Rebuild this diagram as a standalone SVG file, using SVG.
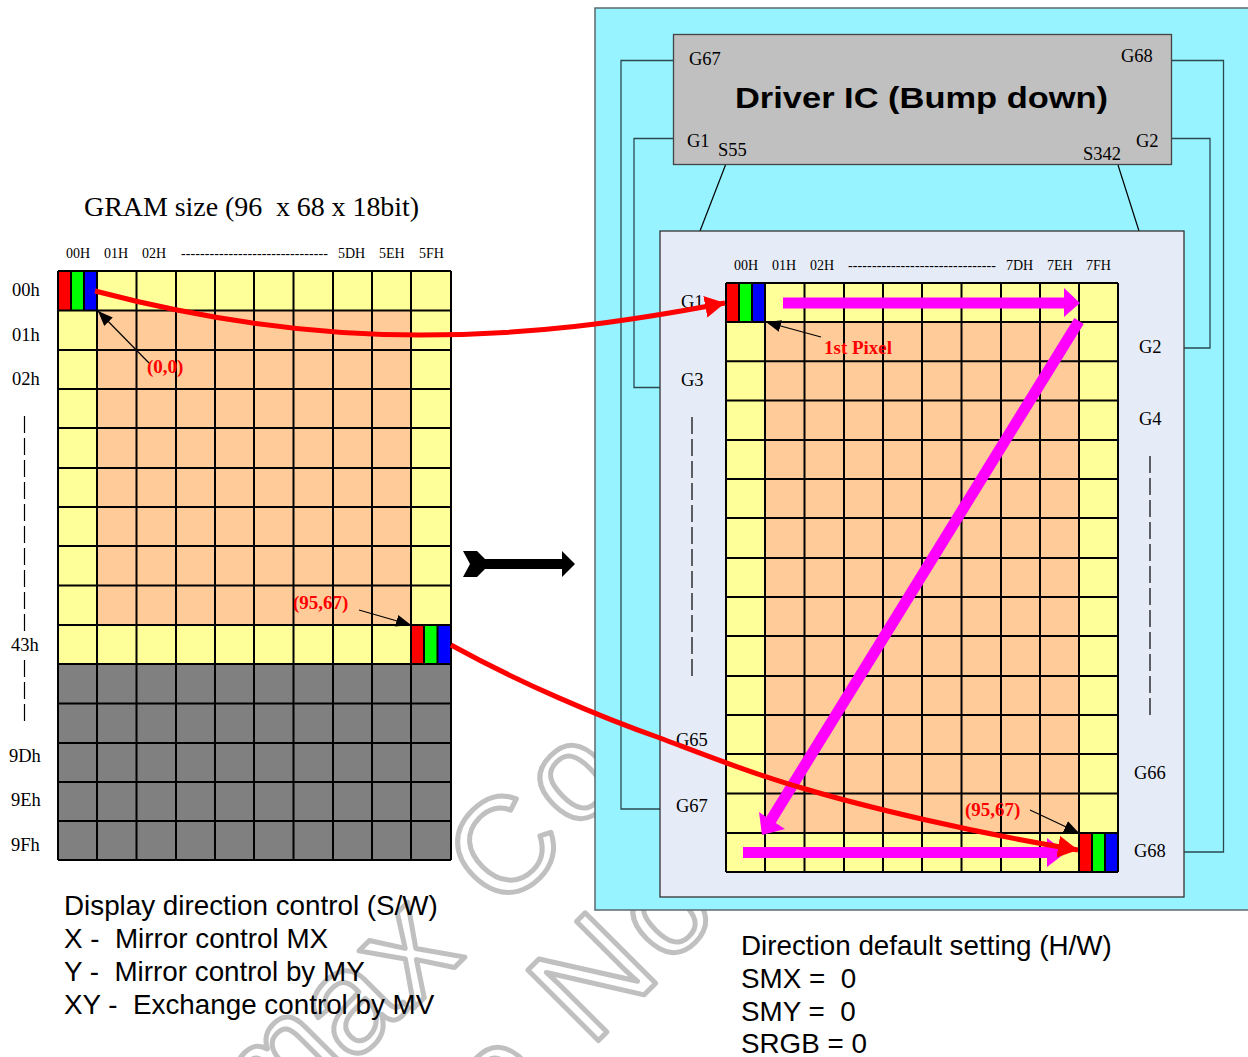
<svg xmlns="http://www.w3.org/2000/svg" width="1248" height="1057" viewBox="0 0 1248 1057">
<style>
.s{font-family:"Liberation Serif",serif;fill:#000}
.h{font-size:14px}
.g{font-size:18.500px}
.r{font-family:"Liberation Serif",serif;font-weight:bold;fill:#f00;font-size:19px}
.a{font-family:"Liberation Sans",sans-serif;font-size:27.800px;fill:#000}
.wm{font-family:"Liberation Sans",sans-serif;font-size:135px;fill:none;stroke:#c0c0c0;stroke-width:5;stroke-linejoin:round}
.grid{fill:none;stroke:#000;stroke-width:2}
.w{fill:none;stroke:#2a4a50;stroke-width:1.3}
.thin{fill:none;stroke:#000;stroke-width:1.2}
.dash{fill:none;stroke:#000;stroke-width:1.2;stroke-dasharray:17 5}
.red{fill:none;stroke:#f00;stroke-width:5}
.mag{fill:#f0f;stroke:none}
</style>
<defs>
<marker id="rh" viewBox="0 0 10 10" refX="10" refY="5" markerUnits="userSpaceOnUse" markerWidth="20" markerHeight="22" orient="auto" preserveAspectRatio="none"><path d="M0 0L10 5L0 10z" fill="#f00"/></marker>
<marker id="bh" viewBox="0 0 10 10" refX="10" refY="5" markerUnits="userSpaceOnUse" markerWidth="15" markerHeight="12" orient="auto" preserveAspectRatio="none"><path d="M0 0L10 5L0 10z" fill="#000"/></marker>
</defs>
<g id="watermark">
<text class="wm" transform="translate(266,1134) rotate(-45)">m</text>
<text class="wm" font-size="145" style="font-size:145px" transform="translate(352,1065) rotate(-45)">a</text>
<text class="wm" style="font-size:150px" transform="translate(413,1009) rotate(-45)">x</text>
<text class="wm" transform="translate(502,914) rotate(-45)">C</text>
<text class="wm" transform="translate(575,834) rotate(-45)">o</text>
<text class="wm" transform="translate(501,1136) rotate(-45)">o</text>
<text class="wm" style="font-size:145px" transform="translate(590,1049) rotate(-45)">N</text>
<text class="wm" transform="translate(668,968) rotate(-45)">o</text>
</g>
<g id="panel-bg">
<rect x="595" y="8" width="660" height="902" fill="#97f3ff" stroke="#5a6a6e" stroke-width="1.5"/>
</g>
<g id="driver-ic">
<rect x="673.500" y="34.500" width="498" height="130" fill="#c0c0c0" stroke="#444" stroke-width="1.300"/>
<text class="s g" x="689" y="65">G67</text>
<text class="s g" x="1121" y="62">G68</text>
<text class="s g" x="687" y="147">G1</text>
<text class="s g" x="1136" y="147">G2</text>
<text class="s g" x="718" y="156">S55</text>
<text class="s g" x="1083" y="160">S342</text>
<text x="735" y="108" font-family="Liberation Sans,sans-serif" font-weight="bold" font-size="29" textLength="373" lengthAdjust="spacingAndGlyphs">Driver IC (Bump down)</text>
</g>
<g id="wires">
<path class="w" d="M673 60.500H621V809H660"/>
<path class="w" d="M673 138.500H634V387.500H660"/>
<path class="w" d="M1172 60.500H1223.500V852H1184"/>
<path class="w" d="M1172 138.500H1210V348H1184"/>
<path class="thin" d="M725.500 165L700 231M1118 165L1139 231"/>
</g>
<g id="lcd-panel">
<rect x="660" y="231" width="524" height="666" fill="#e6ecf7" stroke="#333" stroke-width="1.300"/>
<text class="s h" x="734" y="270">00H</text>
<text class="s h" x="772" y="270">01H</text>
<text class="s h" x="810" y="270">02H</text>
<text class="s h" x="848" y="270" textLength="148">-------------------------------</text>
<text class="s h" x="1006" y="270">7DH</text>
<text class="s h" x="1047" y="270">7EH</text>
<text class="s h" x="1086" y="270">7FH</text>
<text class="s g" x="681" y="308">G1</text>
<text class="s g" x="681" y="386">G3</text>
<text class="s g" x="1139" y="353">G2</text>
<text class="s g" x="1139" y="425">G4</text>
<text class="s g" x="676" y="746">G65</text>
<text class="s g" x="676" y="812">G67</text>
<text class="s g" x="1134" y="779">G66</text>
<text class="s g" x="1134" y="857">G68</text>
<path class="dash" d="M692 417V680M1150 456V716"/>
</g>
<g id="lcd-grid">
<rect x="726" y="283" width="392" height="589" fill="#ff9"/>
<rect x="765" y="322" width="314" height="511" fill="#fc9"/>
<rect x="726" y="283" width="13" height="39" fill="#f00"/><rect x="739" y="283" width="13" height="39" fill="#0f0"/><rect x="752" y="283" width="13" height="39" fill="#00f"/>
<rect x="1079" y="833" width="13" height="39" fill="#f00"/><rect x="1092" y="833" width="13" height="39" fill="#0f0"/><rect x="1105" y="833" width="13" height="39" fill="#00f"/>
<path class="grid" d="M726 283H1118M726 322H1118M726 361.300H1118M726 400.600H1118M726 440H1118M726 479H1118M726 518H1118M726 558H1118M726 597H1118M726 636H1118M726 676H1118M726 715H1118M726 754H1118M726 793.500H1118M726 833H1118M726 872H1118M726 283V872M765 283V872M804.500 283V872M844 283V872M883 283V872M922 283V872M961.500 283V872M1001 283V872M1040 283V872M1079 283V872M1118 283V872"/>
<path class="grid" stroke-width="1.500" d="M739 283V322M752 283V322M1092 833V872M1105 833V872"/>
</g>
<g id="gram-grid">
<rect x="58" y="271" width="393" height="393" fill="#ff9"/>
<rect x="97" y="310" width="314" height="315" fill="#fc9"/>
<rect x="58" y="664" width="393" height="196" fill="#808080"/>
<rect x="58" y="271" width="13" height="39" fill="#f00"/><rect x="71" y="271" width="13" height="39" fill="#0f0"/><rect x="84" y="271" width="13" height="39" fill="#00f"/>
<rect x="411" y="625" width="13" height="39" fill="#f00"/><rect x="424" y="625" width="13" height="39" fill="#0f0"/><rect x="437.500" y="625" width="13.500" height="39" fill="#00f"/>
<path class="grid" d="M58 271H451M58 310.500H451M58 350H451M58 389H451M58 428H451M58 468H451M58 507H451M58 546H451M58 585.500H451M58 625H451M58 664H451M58 703.500H451M58 743H451M58 782H451M58 821H451M58 860H451M58 271V860M97 271V860M136.500 271V860M176 271V860M215 271V860M254 271V860M293.500 271V860M333 271V860M372 271V860M411 271V860M451 271V860"/>
<path class="grid" stroke-width="1.500" d="M71 271V310M84 271V310M424 625V664M437.500 625V664"/>
</g>
<g id="gram-labels">
<text x="84" y="216" font-family="Liberation Serif,serif" font-size="28" xml:space="preserve" textLength="335">GRAM size (96  x 68 x 18bit)</text>
<text class="s h" x="66" y="258">00H</text>
<text class="s h" x="104" y="258">01H</text>
<text class="s h" x="142" y="258">02H</text>
<text class="s h" x="181" y="258" textLength="147">-------------------------------</text>
<text class="s h" x="338" y="258">5DH</text>
<text class="s h" x="379" y="258">5EH</text>
<text class="s h" x="419" y="258">5FH</text>
<text class="s g" x="12" y="296">00h</text>
<text class="s g" x="12" y="341">01h</text>
<text class="s g" x="12" y="385">02h</text>
<text class="s g" x="11" y="651">43h</text>
<text class="s g" x="9" y="762">9Dh</text>
<text class="s g" x="11" y="806">9Eh</text>
<text class="s g" x="11" y="851">9Fh</text>
<path class="dash" d="M24.500 416V633M24.500 660V723"/>
<text class="a" x="64" y="915">Display direction control (S/W)</text>
<text class="a" x="64" y="948" xml:space="preserve">X -  Mirror control MX</text>
<text class="a" x="64" y="981" xml:space="preserve">Y -  Mirror control by MY</text>
<text class="a" x="64" y="1014" xml:space="preserve">XY -  Exchange control by MV</text>
<text class="a" x="741" y="955">Direction default setting (H/W)</text>
<text class="a" x="741" y="988" xml:space="preserve">SMX =  0</text>
<text class="a" x="741" y="1021" xml:space="preserve">SMY =  0</text>
<text class="a" x="741" y="1053">SRGB = 0</text>
</g>
<g id="connectors">
<path class="mag" d="M783 297.500H1064V288L1080 303L1064 317V308.500H783z"/>
<path class="mag" d="M1074.300 318.100L1083.700 323.900L775.700 822.900L785 829L762 835L759 812L766.300 817.100z"/>
<path class="mag" d="M743 847H1047V838L1066 852.500L1047 867V858H743z"/>
<path class="red" marker-end="url(#rh)" d="M95 291C190 316 300 335 420 335C530 335 620 323 725 303"/>
<path class="red" marker-end="url(#rh)" d="M451 645C520 683 600 717 660 738C705 755 755 775 802 788C865 807 975 833 1078 850"/>
<path class="thin" marker-end="url(#bh)" d="M149 363L98 311"/>
<path class="thin" marker-end="url(#bh)" d="M359 610L411 625"/>
<path class="thin" marker-end="url(#bh)" d="M821 337L766 322"/>
<path class="thin" marker-end="url(#bh)" d="M1030 810L1079 833"/>
<path d="M463 551H477L485 559H562V551L575 564L562 577V569H485L477 577H463L470 564z" fill="#000"/>
</g>
<g id="red-labels">
<text class="r" x="147" y="373">(0,0)</text>
<text class="r" x="293" y="609">(95,67)</text>
<text class="r" x="824" y="354">1st Pixel</text>
<text class="r" x="965" y="816">(95,67)</text>
</g>
</svg>
